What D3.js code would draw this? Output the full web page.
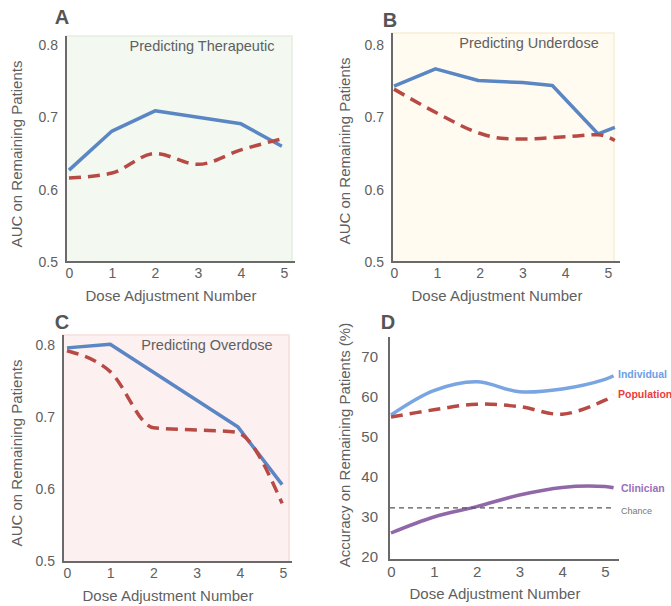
<!DOCTYPE html>
<html>
<head>
<meta charset="utf-8">
<script src="https://cdn.jsdelivr.net/npm/d3@7"></script>
<style>
  body { margin: 0; background: #fff; }
  svg text { font-family: "Liberation Sans", Arial, sans-serif; }
</style>
</head>
<body>
<div id="chart"></div>
<script>
// data
var doses = [0, 1, 2, 3, 4, 5];
var aucTicks = [0.5, 0.6, 0.7, 0.8];
var accTicks = [20, 30, 40, 50, 60, 70];

// A - therapeutic
var aIndivX = [0, 1, 2, 3, 4, 4.95];
var aIndiv  = [0.627, 0.681, 0.709, 0.700, 0.691, 0.660];
var aPopX   = [0, 1, 2, 3, 4, 5];
var aPop    = [0.616, 0.623, 0.650, 0.635, 0.655, 0.671];

// B - underdose
var bIndivX = [0, 0.97, 1.97, 3, 3.7, 4.77, 5.16];
var bIndiv  = [0.743, 0.767, 0.751, 0.748, 0.744, 0.677, 0.686];
var bPopX   = [0, 1, 2, 2.5, 3, 4, 4.77, 5.16];
var bPop    = [0.739, 0.706, 0.678, 0.671, 0.670, 0.673, 0.676, 0.668];

// C - overdose
var cIndivX = [0, 1, 3.96, 4.98];
var cIndiv  = [0.796, 0.801, 0.686, 0.606];
var cPopX   = [0, 1, 2, 3, 3.9, 4.98];
var cPop    = [0.792, 0.763, 0.685, 0.682, 0.679, 0.580];

// D - accuracy
var dX          = [0, 1, 2, 3, 4, 5, 5.2];
var dIndividual = [55.5, 61.6, 63.8, 61.3, 62.0, 64.4, 65.3];
var dPopulation = [55.0, 56.8, 58.2, 57.6, 55.7, 59.2, 60.5];
var dClinician  = [26.0, 30.0, 32.6, 35.5, 37.4, 37.6, 37.3];
var chance = 32.3;

var blue = '#5b86c4', red = '#b84a45';

var svg = d3.select('#chart')
  .append('svg')
  .attr('width', 671)
  .attr('height', 606);

function zip(xs, ys) {
  return xs.map(function(x, i) { return [x, ys[i]]; });
}

function panel(o) {
  var g = svg.append('g');
  var x = d3.scaleLinear().domain([0, 5]).range(o.xr);
  var y = d3.scaleLinear().domain(o.yd).range(o.yr);

  if (o.bg) {
    g.append('rect')
      .attr('x', o.left).attr('y', o.top)
      .attr('width', o.right - o.left).attr('height', o.bottom - o.top)
      .attr('fill', o.bg).attr('stroke', o.bgStroke).attr('stroke-width', 1.5);
  }

  // axes (no tick marks, just labels)
  var yAxis = d3.axisLeft(y).tickValues(o.ticks).tickSize(0).tickPadding(o.tickPad)
    .tickFormat(o.fmt);
  var ya = g.append('g').attr('transform', 'translate(' + o.left + ',0)').call(yAxis);
  ya.select('.domain').remove();
  ya.selectAll('text').attr('fill', '#606060').attr('font-size', o.tickSize + 'px');

  var xAxis = d3.axisBottom(x).tickValues(doses).tickSize(0).tickPadding(6)
    .tickFormat(d3.format('d'));
  var xa = g.append('g').attr('transform', 'translate(0,' + o.bottom + ')').call(xAxis);
  xa.select('.domain').remove();
  xa.selectAll('text').attr('fill', '#606060').attr('font-size', o.tickSize + 'px');

  g.append('line')
    .attr('x1', o.left).attr('x2', o.left)
    .attr('y1', o.top).attr('y2', o.bottom + 1)
    .attr('stroke', '#6a6a6a').attr('stroke-width', 2);
  g.append('line')
    .attr('x1', o.left - 1).attr('x2', o.axisEnd)
    .attr('y1', o.bottom).attr('y2', o.bottom)
    .attr('stroke', '#6a6a6a').attr('stroke-width', 2);

  g.append('text')
    .text('Dose Adjustment Number')
    .attr('x', o.xTitleX).attr('y', o.bottom + 39)
    .attr('text-anchor', 'middle')
    .attr('fill', '#5f5f5f').attr('font-size', '15px');

  g.append('text')
    .text(o.yTitle)
    .attr('transform', 'translate(' + o.yTitleX + ',' + o.yTitleY + ') rotate(-90)')
    .attr('text-anchor', 'middle')
    .attr('fill', '#5f5f5f').attr('font-size', '15px');

  g.append('text')
    .text(o.letter)
    .attr('x', o.letterX).attr('y', o.letterY)
    .attr('text-anchor', 'middle')
    .attr('fill', '#555').attr('font-size', '20px').attr('font-weight', 'bold');

  if (o.title) {
    g.append('text')
      .text(o.title)
      .attr('x', o.titleX).attr('y', o.titleY)
      .attr('text-anchor', 'middle')
      .attr('fill', '#606060').attr('font-size', '14.5px');
  }

  o.series.forEach(function(s) {
    var line = d3.line()
      .x(function(d) { return x(d[0]); })
      .y(function(d) { return y(d[1]); })
      .curve(s.curve || d3.curveLinear);
    g.append('path')
      .datum(s.data)
      .attr('d', line)
      .attr('fill', 'none')
      .attr('stroke', s.color)
      .attr('stroke-width', 3.5)
      .attr('stroke-linejoin', 'round')
      .attr('stroke-dasharray', s.dash ? '12,7' : null);
  });

  return {g: g, x: x, y: y};
}

var fmt1 = d3.format('.1f');

panel({
  left: 66, top: 36, right: 292, bottom: 262, axisEnd: 295,
  xr: [69, 284], yd: [0.5, 0.8], yr: [262, 45],
  ticks: aucTicks, fmt: fmt1, tickSize: 14, tickPad: 8,
  bg: '#f3f8f1', bgStroke: '#e5eee0',
  letter: 'A', letterX: 62, letterY: 24,
  title: 'Predicting Therapeutic', titleX: 202, titleY: 51,
  yTitle: 'AUC on Remaining Patients', yTitleX: 22, yTitleY: 154,
  xTitleX: 171,
  series: [
    {data: zip(aIndivX, aIndiv), color: blue},
    {data: zip(aPopX, aPop), color: red, dash: true, curve: d3.curveMonotoneX}
  ]
});

panel({
  left: 392, top: 33, right: 614, bottom: 262, axisEnd: 620,
  xr: [394, 608], yd: [0.5, 0.8], yr: [262, 45],
  ticks: aucTicks, fmt: fmt1, tickSize: 14, tickPad: 8,
  bg: '#fffbf0', bgStroke: '#f6eed4',
  letter: 'B', letterX: 390, letterY: 27,
  title: 'Predicting Underdose', titleX: 529, titleY: 48,
  yTitle: 'AUC on Remaining Patients', yTitleX: 350, yTitleY: 151,
  xTitleX: 497,
  series: [
    {data: zip(bIndivX, bIndiv), color: blue},
    {data: zip(bPopX, bPop), color: red, dash: true, curve: d3.curveMonotoneX}
  ]
});

panel({
  left: 63, top: 335, right: 289, bottom: 562, axisEnd: 292,
  xr: [67, 283], yd: [0.5, 0.8], yr: [561, 345],
  ticks: aucTicks, fmt: fmt1, tickSize: 14, tickPad: 8,
  bg: '#fcf0f0', bgStroke: '#f6dede',
  letter: 'C', letterX: 62, letterY: 329,
  title: 'Predicting Overdose', titleX: 207, titleY: 350,
  yTitle: 'AUC on Remaining Patients', yTitleX: 22, yTitleY: 453,
  xTitleX: 168,
  series: [
    {data: zip(cIndivX, cIndiv), color: blue},
    {data: zip(cPopX, cPop), color: red, dash: true, curve: d3.curveMonotoneX}
  ]
});

var d = panel({
  left: 389, top: 337, right: 618, bottom: 560, axisEnd: 619,
  xr: [391, 605], yd: [20, 70], yr: [557, 357],
  ticks: accTicks, fmt: d3.format('d'), tickSize: 15, tickPad: 11,
  letter: 'D', letterX: 388, letterY: 329,
  yTitle: 'Accuracy on Remaining Patients (%)', yTitleX: 350, yTitleY: 445,
  xTitleX: 495,
  series: [
    {data: zip(dX, dIndividual), color: '#79a5e2', curve: d3.curveCatmullRom},
    {data: zip(dX, dPopulation), color: '#b84a45', dash: true, curve: d3.curveCatmullRom},
    {data: zip(dX, dClinician), color: '#9068a8', curve: d3.curveCatmullRom}
  ]
});

// chance line
d.g.append('line')
  .attr('x1', 390).attr('x2', d.x(5.2))
  .attr('y1', d.y(chance)).attr('y2', d.y(chance))
  .attr('stroke', '#555').attr('stroke-width', 1.2)
  .attr('stroke-dasharray', '5,4');

// direct labels at the line ends
var endLabels = [
  {text: 'Individual', v: dIndividual[6], dy: -1, color: '#6d9ee6', bold: true, size: 10.5},
  {text: 'Population', v: dPopulation[6], dy: -1, color: '#ee3b3b', bold: true, size: 10.5},
  {text: 'Clinician', v: dClinician[6], dy: 1, color: '#9a6fbb', bold: true, size: 10.5},
  {text: 'Chance', v: chance, dy: 3, color: '#777', bold: false, size: 9}
];
endLabels.forEach(function(l) {
  d.g.append('text')
    .text(l.text)
    .attr('x', l.text === 'Chance' || l.text === 'Clinician' ? 621 : 618)
    .attr('y', d.y(l.v) + l.dy)
    .attr('dy', '0.35em')
    .attr('fill', l.color)
    .attr('font-size', l.size + 'px')
    .attr('font-weight', l.bold ? 'bold' : 'normal');
});
</script>
</body>
</html>
